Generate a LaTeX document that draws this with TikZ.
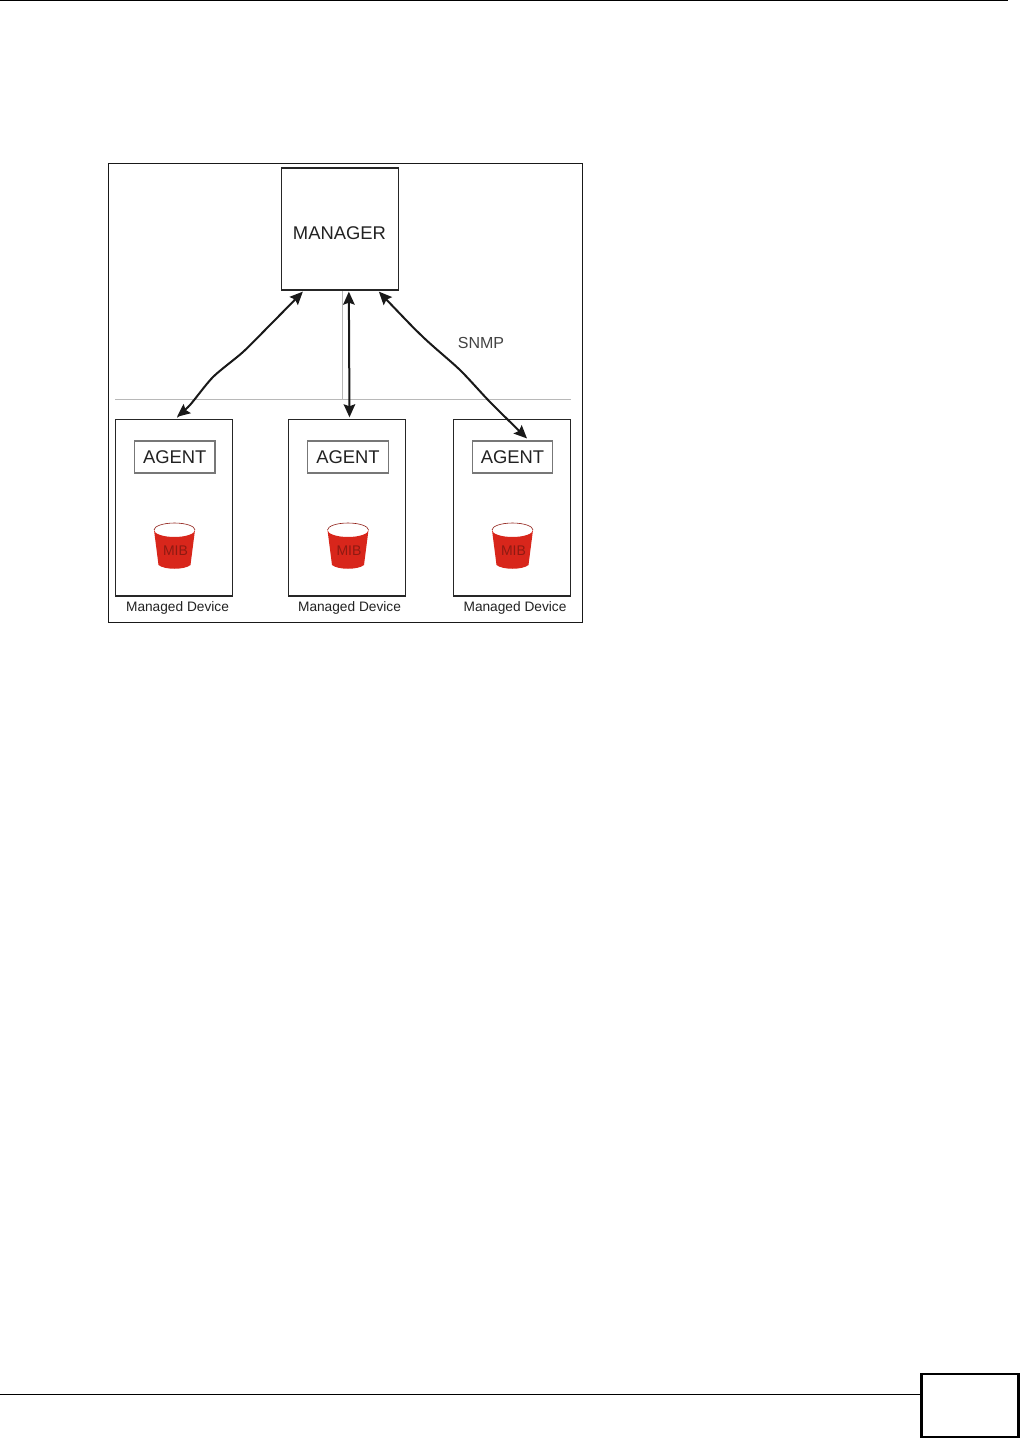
\documentclass[tikz,border=0pt]{standalone}
\usepackage{fontspec}
\setmainfont{Liberation Sans}
\usetikzlibrary{arrows.meta,calc}
\definecolor{mibred}{HTML}{D8261B}
\definecolor{mibdark}{HTML}{8E1A12}
\definecolor{txt}{HTML}{222222}
\definecolor{rulegray}{HTML}{B8B8B8}
\definecolor{boxgray}{HTML}{777777}
\tikzset{
  devbox/.style={draw=black!85,line width=1.3pt,minimum width=117pt,minimum height=176.5pt,inner sep=0pt},
  mgrbox/.style={draw=black!85,line width=1.3pt,minimum width=117pt,minimum height=122pt,inner sep=0pt,font=\fontsize{18.4pt}{20pt}\selectfont,text=txt},
  agentbox/.style={draw=boxgray,line width=1.1pt,minimum width=80.5pt,minimum height=32pt,inner sep=0pt,font=\fontsize{18.4pt}{20pt}\selectfont,text=txt},
  miblabel/.style={inner sep=0pt,font=\fontsize{14pt}{16pt}\selectfont,text=mibdark},
  caption/.style={inner sep=0pt,font=\fontsize{13.7pt}{16pt}\selectfont,text=txt},
  link/.style={line width=2pt,black!90,{Stealth[length=13pt,width=11.5pt,inset=2pt]}-{Stealth[length=13pt,width=11.5pt,inset=2pt]}},
  hair/.style={rulegray,line width=1pt},
  mibfill/.style={fill=mibred,draw=none},
  mibrim/.style={draw=mibdark,line width=.6pt}
}
\newcommand{\mibcan}[1]{%
  \fill[mibfill] (#1-20.5,530) arc[start angle=180,end angle=0,x radius=20.5,y radius=7]
    -- (#1+16,565) .. controls (#1+10,570) and (#1-10,570) .. (#1-16,565) -- cycle;
  \draw[mibrim] (#1-20.5,530) arc[start angle=180,end angle=360,x radius=20.5,y radius=7];
}
\begin{document}
\begin{tikzpicture}[x=1pt,y=-1pt]
\useasboundingbox (0,0) rectangle (1020,1438);
\fill[white] (0,0) rectangle (1020,1438);

% page furniture
\coordinate (tl) at (0,0.7);
\coordinate (tr) at (1008,0.7);
\draw[black,line width=1.4pt] (tl) -- (tr);
\node[draw=black,line width=2.6pt,minimum width=97pt,minimum height=63pt,inner sep=0pt] (pagebox) at (970,1405.5) {};
\coordinate (fl) at (0,1394.5);
\draw[black,line width=1.2pt] (fl) -- (fl -| pagebox.west);

% frame
\node[draw=black!90,line width=1pt,minimum width=474pt,minimum height=459pt,inner sep=0pt] (frame) at (345.5,393) {};

% gray guide lines
\coordinate (gl) at (115,399);
\coordinate (gr) at (571,399);
\coordinate (gt) at (342,291);
\coordinate (gb) at (342,399);
\draw[hair] (gl) -- (gr);
\draw[hair] (gt) -- (gb);

% manager
\node[mgrbox] (mgr) at (340,229) {};
\node[inner sep=0pt,font=\fontsize{18.4pt}{20pt}\selectfont,text=txt] (mgrtext) at (339.5,233) {MANAGER};

% devices
\node[devbox] (dev1) at (174,507.7) {};
\node[devbox] (dev2) at (347,507.7) {};
\node[devbox] (dev3) at (511.7,507.7) {};

\node[agentbox] (ag1) at (174.7,457) {AGENT};
\node[agentbox] (ag2) at (348,457) {AGENT};
\node[agentbox] (ag3) at (512.5,457) {AGENT};

\mibcan{174.5}
\mibcan{348}
\mibcan{512.5}
\node[miblabel] (mib1) at (175.5,550.5) {MIB};
\node[miblabel] (mib2) at (349,550.5) {MIB};
\node[miblabel] (mib3) at (513.5,550.5) {MIB};

\node[caption] (cap1) at (177.5,608) {Managed Device};
\node[caption] (cap2) at (349.5,608) {Managed Device};
\node[caption] (cap3) at (515,608) {Managed Device};

\node[inner sep=0pt,font=\fontsize{16pt}{18pt}\selectfont,text=txt!85] (snmp) at (481,343) {SNMP};

% links
\coordinate (m1) at ($(mgr.south west)+(22,1)$);
\coordinate (m2) at ($(mgr.south west)+(68,1)$);
\coordinate (m3) at ($(mgr.south west)+(98,1)$);
\coordinate (d1) at ($(dev1.north)+(3,-2)$);
\coordinate (d2) at ($(dev2.north)+(2.5,-1.5)$);
\coordinate (d3) at ($(ag3.north)+(14.5,-2)$);
\draw[link] plot[smooth,tension=.45] coordinates {(m1) (270,325) (243,352) (213,377) (190,405) (d1)};
\draw[link] (m2) -- (d2);
\draw[link] plot[smooth,tension=.45] coordinates {(m3) (423,337) (460,370) (490,402) (d3)};
\end{tikzpicture}
\end{document}
